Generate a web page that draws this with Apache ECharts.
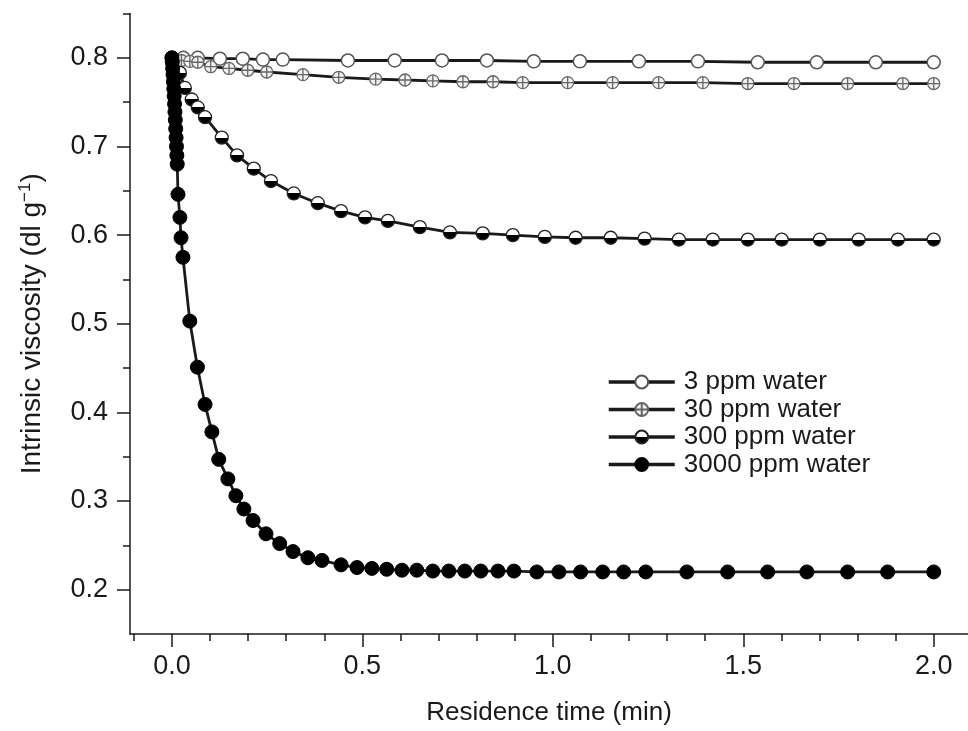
<!DOCTYPE html>
<html>
<head>
<meta charset="utf-8">
<script src="https://cdn.jsdelivr.net/npm/echarts@6/dist/echarts.min.js"></script>
<style>
  html, body { margin: 0; padding: 0; background: #fff; }
  #chart { width: 968px; height: 731px; }
</style>
</head>
<body>
<div id="chart"></div>
<script>
// Intrinsic viscosity vs residence time
const t3 = [0, 0.03, 0.068, 0.126, 0.186, 0.239, 0.291, 0.462, 0.585, 0.709, 0.827, 0.950, 1.071, 1.226, 1.381, 1.538, 1.693, 1.848, 2.0];
const v3 = [0.800, 0.800, 0.800, 0.799, 0.799, 0.798, 0.798, 0.797, 0.797, 0.797, 0.797, 0.796, 0.796, 0.796, 0.796, 0.795, 0.795, 0.795, 0.795];

const t30 = [0, 0.025, 0.047, 0.068, 0.102, 0.150, 0.199, 0.249, 0.344, 0.438, 0.535, 0.612, 0.685, 0.764, 0.843, 0.921, 1.039, 1.157, 1.278, 1.394, 1.512, 1.633, 1.774, 1.919, 2.0];
const v30 = [0.800, 0.797, 0.796, 0.795, 0.790, 0.788, 0.786, 0.784, 0.781, 0.778, 0.776, 0.775, 0.774, 0.773, 0.773, 0.772, 0.772, 0.772, 0.772, 0.772, 0.771, 0.771, 0.771, 0.771, 0.771];

const t300 = [0, 0.021, 0.034, 0.052, 0.068, 0.087, 0.131, 0.171, 0.215, 0.260, 0.320, 0.383, 0.444, 0.507, 0.567, 0.651, 0.730, 0.816, 0.895, 0.979, 1.060, 1.152, 1.241, 1.331, 1.420, 1.512, 1.601, 1.701, 1.803, 1.906, 2.0];
const v300 = [0.800, 0.783, 0.766, 0.753, 0.744, 0.733, 0.710, 0.690, 0.675, 0.661, 0.647, 0.636, 0.627, 0.620, 0.616, 0.609, 0.603, 0.602, 0.600, 0.598, 0.597, 0.597, 0.596, 0.595, 0.595, 0.595, 0.595, 0.595, 0.595, 0.595, 0.595];

const t3000 = [0, 0.001, 0.002, 0.003, 0.004, 0.005, 0.006, 0.007, 0.008, 0.009, 0.010, 0.011, 0.012, 0.013, 0.014, 0.016, 0.021, 0.024, 0.029, 0.047, 0.067, 0.087, 0.105, 0.123, 0.147, 0.168, 0.189, 0.213, 0.247, 0.283, 0.318, 0.357, 0.394, 0.444, 0.486, 0.525, 0.564, 0.604, 0.643, 0.685, 0.727, 0.769, 0.811, 0.856, 0.898, 0.958, 1.016, 1.073, 1.131, 1.186, 1.244, 1.352, 1.459, 1.564, 1.667, 1.774, 1.879, 2.0];
const v3000 = [0.800, 0.795, 0.788, 0.781, 0.773, 0.765, 0.757, 0.748, 0.739, 0.730, 0.720, 0.710, 0.700, 0.690, 0.680, 0.646, 0.620, 0.597, 0.575, 0.503, 0.451, 0.409, 0.378, 0.347, 0.325, 0.306, 0.291, 0.278, 0.263, 0.252, 0.243, 0.236, 0.233, 0.228, 0.225, 0.224, 0.223, 0.222, 0.222, 0.221, 0.221, 0.221, 0.221, 0.221, 0.221, 0.220, 0.220, 0.220, 0.220, 0.220, 0.220, 0.220, 0.220, 0.220, 0.220, 0.220, 0.220, 0.220];

const seriesNames = ['3 ppm water', '30 ppm water', '300 ppm water', '3000 ppm water'];

const xMajorTicks = [0, 0.5, 1.0, 1.5, 2.0];
const xMinorTicks = [-0.1, 0.1, 0.2, 0.3, 0.4, 0.6, 0.7, 0.8, 0.9, 1.1, 1.2, 1.3, 1.4, 1.6, 1.7, 1.8, 1.9];
const yMajorTicks = [0.2, 0.3, 0.4, 0.5, 0.6, 0.7, 0.8];
const yMinorTicks = [0.25, 0.35, 0.45, 0.55, 0.65, 0.75, 0.85];

const FONT = "'Liberation Sans', Arial, sans-serif";
const INK = '#1a1a1a';
const X_MIN = -0.11, X_MAX = 2.09;
const Y_MIN = 0.15, Y_MAX = 0.85;

const pairs = (ts, vs) => ts.map((t, i) => [t, vs[i]]);

// circle with a cross inside (30 ppm marker)
const CROSS_CIRCLE = 'path://M0,-10A10,10 0 1,1 0,10A10,10 0 1,1 0,-10Z M0,-10L0,10 M-10,0L10,0';
const halfFill = new echarts.graphic.LinearGradient(0, 0, 0, 1, [
  { offset: 0, color: '#fff' },
  { offset: 0.5, color: '#fff' },
  { offset: 0.5, color: '#000' },
  { offset: 1, color: '#000' },
]);

const chart = echarts.init(document.getElementById('chart'), null, { renderer: 'canvas' });

const lineSeries = (name, data, symbol, size, itemStyle) => ({
  name,
  type: 'line',
  data,
  symbol,
  symbolSize: size,
  showAllSymbol: true,
  lineStyle: { color: INK, width: 2.8 },
  itemStyle,
  animation: false,
});

const tickStyle = { color: INK, width: 1.5 };

chart.setOption({
  backgroundColor: '#fff',
  textStyle: { fontFamily: FONT },
  grid: { left: 130, right: 0, top: 13.5, bottom: 94.5 },
  legend: {
    orient: 'vertical',
    left: 602,
    top: 364,
    itemWidth: 66,
    itemHeight: 16,
    itemGap: 1.5,
    data: seriesNames,
    lineStyle: { width: 3.5 },
    textStyle: { fontFamily: FONT, fontSize: 26, color: INK, padding: [0, 0, 0, 4] },
  },
  xAxis: [
    {
      type: 'value',
      min: X_MIN,
      max: X_MAX,
      name: 'Residence time (min)',
      nameLocation: 'middle',
      nameGap: 66,
      nameTextStyle: { fontFamily: FONT, fontSize: 26, color: INK },
      axisLine: { onZero: false, lineStyle: { color: INK, width: 1.5 } },
      axisTick: { customValues: xMajorTicks, length: 13, lineStyle: tickStyle },
      axisLabel: {
        customValues: xMajorTicks,
        margin: 19,
        fontFamily: FONT,
        fontSize: 27,
        color: INK,
        formatter: (v) => v.toFixed(1),
      },
      splitLine: { show: false },
    },
    {
      type: 'value',
      min: X_MIN,
      max: X_MAX,
      position: 'bottom',
      axisLine: { show: false, onZero: false },
      axisTick: { customValues: xMinorTicks, length: 7, lineStyle: tickStyle },
      axisLabel: { show: false },
      splitLine: { show: false },
    },
  ],
  yAxis: [
    {
      type: 'value',
      min: Y_MIN,
      max: Y_MAX,
      name: 'Intrinsic viscosity (dl g{sup|−1})',
      nameLocation: 'middle',
      nameGap: 83,
      nameRotate: 90,
      nameTextStyle: {
        fontFamily: FONT,
        fontSize: 28,
        color: INK,
        rich: { sup: { fontFamily: FONT, fontSize: 17, color: INK, verticalAlign: 'top', padding: [0, 0, 13, 0] } },
      },
      axisLine: { onZero: false, lineStyle: { color: INK, width: 1.5 } },
      axisTick: { customValues: yMajorTicks, length: 13, lineStyle: tickStyle },
      axisLabel: {
        customValues: yMajorTicks,
        margin: 22,
        fontFamily: FONT,
        fontSize: 27,
        color: INK,
        formatter: (v) => v.toFixed(1),
      },
      splitLine: { show: false },
    },
    {
      type: 'value',
      min: Y_MIN,
      max: Y_MAX,
      position: 'left',
      axisLine: { show: false, onZero: false },
      axisTick: { customValues: yMinorTicks, length: 7, lineStyle: tickStyle },
      axisLabel: { show: false },
      splitLine: { show: false },
    },
  ],
  series: [
    lineSeries(seriesNames[0], pairs(t3, v3), 'circle', 13,
      { color: '#fff', borderColor: '#555', borderWidth: 1.5 }),
    lineSeries(seriesNames[1], pairs(t30, v30), CROSS_CIRCLE, 12,
      { color: '#f2f2f2', borderColor: '#666', borderWidth: 1.3 }),
    lineSeries(seriesNames[2], pairs(t300, v300), 'circle', 13,
      { color: halfFill, borderColor: '#222', borderWidth: 1.3 }),
    lineSeries(seriesNames[3], pairs(t3000, v3000), 'circle', 14,
      { color: '#000', borderColor: '#000', borderWidth: 1 }),
  ],
});
</script>
</body>
</html>
